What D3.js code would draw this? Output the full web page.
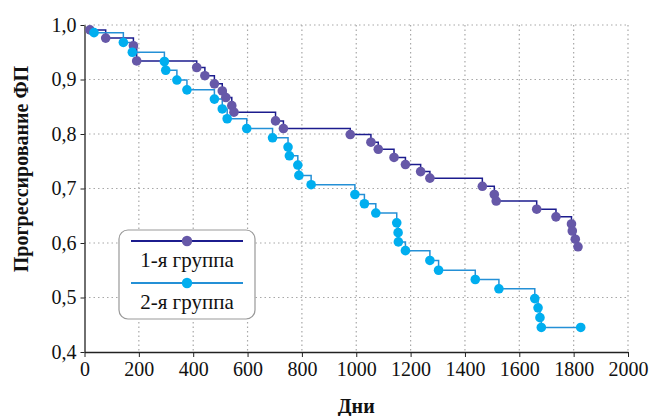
<!DOCTYPE html>
<html>
<head>
<meta charset="utf-8">
<script src="https://cdn.jsdelivr.net/npm/d3@7"></script>
<style>
  body { margin: 0; background: #fff; }
  text { font-family: "Liberation Serif", "DejaVu Serif", serif; fill: #111; }
</style>
</head>
<body>
<div id="chart"></div>
<script>
// group 1: days and survival at each event
let days1 = [0, 20, 78, 180, 192, 413, 443, 478, 507, 520, 542, 550, 703, 732, 978, 1054, 1081, 1139, 1181, 1237, 1271, 1464, 1508, 1515, 1664, 1735, 1792, 1795, 1806, 1816];
let surv1 = [1.0, 0.991, 0.976, 0.962, 0.934, 0.922, 0.907, 0.892, 0.879, 0.867, 0.852, 0.840, 0.824, 0.810, 0.799, 0.785, 0.772, 0.757, 0.744, 0.731, 0.719, 0.704, 0.689, 0.677, 0.662, 0.648, 0.635, 0.622, 0.607, 0.593];
// group 2
let days2 = [0, 35, 143, 176, 294, 299, 340, 377, 478, 507, 525, 597, 692, 749, 754, 785, 789, 834, 995, 1030, 1072, 1149, 1154, 1155, 1181, 1271, 1303, 1438, 1525, 1657, 1669, 1676, 1681, 1826];
let surv2 = [1.0, 0.986, 0.968, 0.950, 0.933, 0.917, 0.899, 0.881, 0.864, 0.846, 0.828, 0.810, 0.793, 0.776, 0.760, 0.743, 0.724, 0.707, 0.689, 0.672, 0.655, 0.637, 0.619, 0.602, 0.586, 0.568, 0.550, 0.533, 0.516, 0.498, 0.481, 0.463, 0.445, 0.445];

let xTicks = [0, 200, 400, 600, 800, 1000, 1200, 1400, 1600, 1800, 2000];
let yTicks = [0.4, 0.5, 0.6, 0.7, 0.8, 0.9, 1.0];
let groupNames = ["1-я группа", "2-я группа"];

let W = 653, H = 416;
let margin = {left: 84.5, top: 25, right: 25, bottom: 64};
let width = W - margin.left - margin.right;
let height = H - margin.top - margin.bottom;

let svg = d3.select("#chart")
    .append("svg")
        .attr("width", W)
        .attr("height", H)
    .append("g")
        .attr("transform", "translate(" + margin.left + "," + margin.top + ")");

let x = d3.scaleLinear().domain([0, 2000]).range([0, width]);
let y = d3.scaleLinear().domain([0.4, 1.0]).range([height, 0]);

// dotted grid
svg.append("g").selectAll("line")
    .data(xTicks.slice(1))
    .enter().append("line")
    .attr("x1", d => x(d)).attr("x2", d => x(d))
    .attr("y1", 0).attr("y2", height)
    .attr("stroke", "#a8a8a8").attr("stroke-width", 1.2)
    .attr("stroke-dasharray", "1.5,3");
svg.append("g").selectAll("line")
    .data(yTicks.slice(1))
    .enter().append("line")
    .attr("x1", 0).attr("x2", width)
    .attr("y1", d => y(d)).attr("y2", d => y(d))
    .attr("stroke", "#a8a8a8").attr("stroke-width", 1.2)
    .attr("stroke-dasharray", "1.5,3");

let fmt = d => d3.format(".1f")(d).replace(".", ",");

let xAxis = svg.append("g")
    .attr("transform", "translate(0," + height + ")")
    .call(d3.axisBottom(x).tickValues(xTicks).tickSize(5).tickSizeOuter(0).tickFormat(d3.format("d")));
let yAxis = svg.append("g")
    .call(d3.axisLeft(y).tickValues(yTicks).tickSize(4).tickSizeOuter(0).tickFormat(fmt));

[xAxis, yAxis].forEach(a => {
    a.attr("font-family", null);
    a.select(".domain").attr("stroke", "#222").attr("stroke-width", 1.3);
    a.selectAll(".tick line").attr("stroke", "#222");
    a.selectAll("text").attr("font-size", 20).attr("fill", "#111");
});
xAxis.selectAll("text").attr("dy", "0.8em");
yAxis.selectAll("text").attr("dx", "-0.05em");

// axis titles
svg.append("text")
    .attr("x", width / 2)
    .attr("y", height + 61)
    .attr("text-anchor", "middle")
    .attr("font-size", 20).attr("font-weight", "bold")
    .text("Дни");
svg.append("text")
    .attr("transform", "translate(" + (-57) + "," + 144 + ") rotate(-90)")
    .attr("text-anchor", "middle")
    .attr("font-size", 20).attr("font-weight", "bold")
    .text("Прогрессирование ФП");

let series = [
    {days: days1, surv: surv1, line: "#1c1c8e", dot: "#6658a8"},
    {days: days2, surv: surv2, line: "#2490d6", dot: "#00aeef"}
];

let line = d3.line()
    .x(d => x(d[0]))
    .y(d => y(d[1]))
    .curve(d3.curveStepAfter);

series.forEach(s => {
    let pts = s.days.map((d, i) => [d, s.surv[i]]);
    svg.append("path")
        .datum(pts.slice(1))
        .attr("fill", "none")
        .attr("stroke", s.line)
        .attr("stroke-width", 1.5)
        .attr("d", line);
});
series.forEach(s => {
    let pts = s.days.map((d, i) => [d, s.surv[i]]);
    svg.append("g").selectAll("circle")
        .data(pts.slice(1))
        .enter().append("circle")
        .attr("cx", d => x(d[0]))
        .attr("cy", d => y(d[1]))
        .attr("r", 4.8)
        .attr("fill", s.dot);
});

// legend
let lg = svg.append("g").attr("transform", "translate(" + (119 - margin.left) + "," + (230 - margin.top) + ")");
lg.append("rect")
    .attr("x", 0).attr("y", 0)
    .attr("width", 136).attr("height", 89)
    .attr("rx", 9)
    .attr("fill", "#fff")
    .attr("stroke", "#999").attr("stroke-width", 1.2);
series.forEach((s, i) => {
    let ly = 11 + i * 42;
    lg.append("line")
        .attr("x1", 12).attr("x2", 124)
        .attr("y1", ly).attr("y2", ly)
        .attr("stroke", s.line).attr("stroke-width", 1.8);
    lg.append("circle")
        .attr("cx", 68).attr("cy", ly).attr("r", 5.2)
        .attr("fill", s.dot);
    lg.append("text")
        .attr("x", 68).attr("y", ly + 26)
        .attr("text-anchor", "middle")
        .attr("font-size", 21)
        .text(groupNames[i]);
});
</script>
</body>
</html>
